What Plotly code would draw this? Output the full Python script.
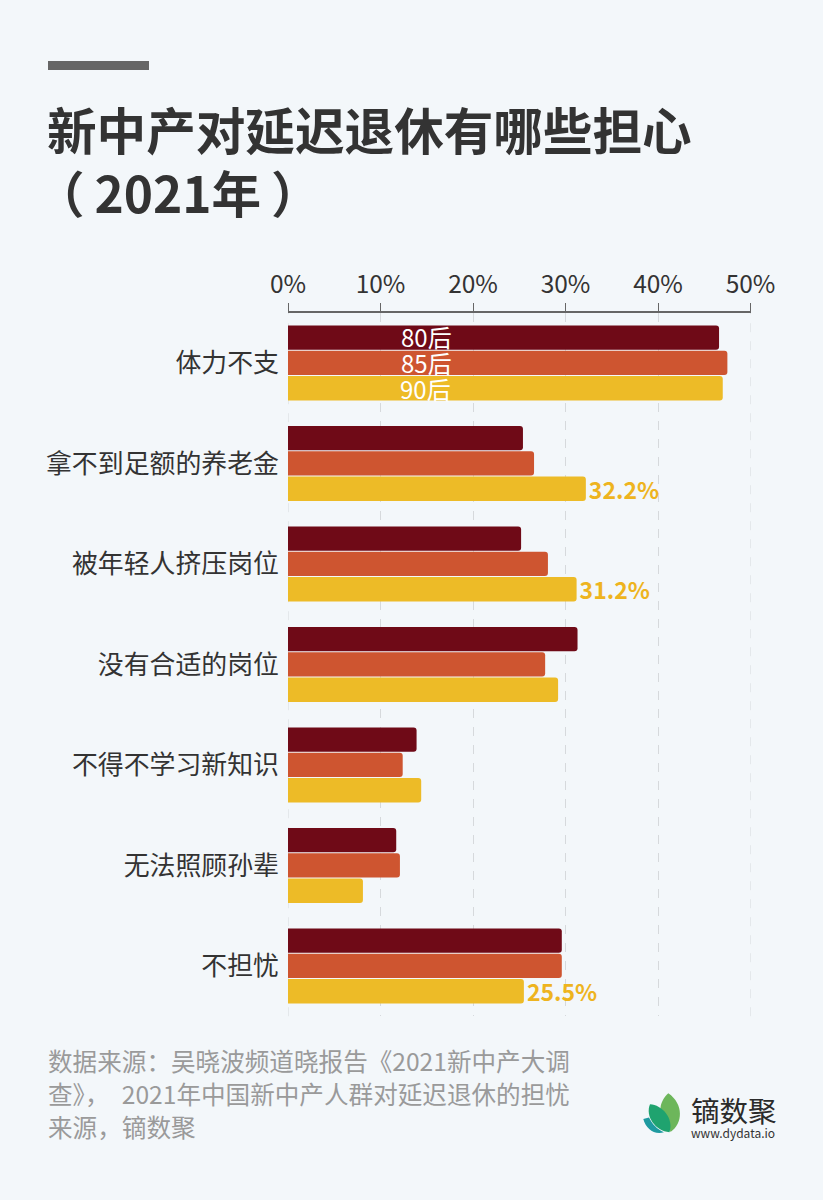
import plotly.graph_objects as go

WIDTH = 823
HEIGHT = 1200
FONT = "Noto Sans CJK SC"

categories = ["体力不支", "拿不到足额的养老金", "被年轻人挤压岗位", "没有合适的岗位", "不得不学习新知识", "无法照顾孙辈", "不担忧"]
series_names = ["80后", "85后", "90后"]
values_80 = [46.6, 25.4, 25.2, 31.3, 13.9, 11.7, 29.6]
values_85 = [47.5, 26.6, 28.1, 27.8, 12.4, 12.1, 29.6]
values_90 = [47.0, 32.2, 31.2, 29.2, 14.4, 8.1, 25.5]
labels_90 = ["", "32.2%", "31.2%", "", "", "", "25.5%"]
x_ticks = [0, 10, 20, 30, 40, 50]
x_tick_labels = ["0%", "10%", "20%", "30%", "40%", "50%"]
title_lines = ["新中产对延迟退休有哪些担心", "（\u20092021年\u2009）"]
source_lines = ["数据来源：吴晓波频道晓报告《2021新中产大调", "查》，\u20022021年中国新中产人群对延迟退休的担忧", "来源，镝数聚"]
colors = ["#6F0A17", "#CE5530", "#EDBB27"]


def px(x):
    return x / WIDTH


def py(y):
    return 1 - y / HEIGHT


def page_text(text, x, y, size, color, weight=400):
    return dict(text=text, x=px(x), y=py(y), xref="paper", yref="paper", xanchor="left", yanchor="middle",
                showarrow=False, font=dict(family=FONT, size=size, color=color, weight=weight))


def logo_path(d, color):
    return dict(type="path", path=d, xref="paper", yref="paper", fillcolor=color, line_width=0)


def to_paper(points):
    # logo outlines are noted in page pixels
    parts = []
    for cmd, coords in points:
        parts.append(cmd + " " + " ".join(f"{px(x):.5f},{py(y):.5f}" for x, y in coords))
    return " ".join(parts) + " Z"


fig = go.Figure()
for name, values, color in zip(series_names, [values_80, values_85, values_90], colors):
    fig.add_trace(go.Bar(
        x=values, y=categories, name=name, orientation="h",
        marker=dict(color=color, cornerradius=3, line_width=0),
        text=labels_90 if name == "90后" else None,
        textposition="outside", cliponaxis=False, constraintext="none",
        textfont=dict(family=FONT, size=23, color="#EEB41F", weight=700),
    ))

annotations = [page_text(line, x, y, 49.6, "#333333", 700) for line, x, y in zip(title_lines, [45, 33], [128, 191])]
annotations += [page_text(line, 46, y, 24.6, "#9A9A9A") for line, y in zip(source_lines, [1060, 1093, 1126])]
annotations.append(page_text("镝数聚", 689, 1109, 28.5, "#2B2B2B", 400))
annotations.append(page_text("www.dydata.io", 689, 1132.5, 12, "#333333"))

# series names sit inside the first group of bars
for name, x, shift in zip(series_names, [15, 14.95, 14.85], [26, 0, -26]):
    annotations.append(dict(text=name, x=x, y=categories[0], xref="x", yref="y", yshift=shift, showarrow=False,
                            font=dict(family=FONT, size=24, color="#FFFFFF")))

shapes = [
    dict(type="rect", x0=px(48), x1=px(149), y0=py(70), y1=py(61), xref="paper", yref="paper",
         fillcolor="#666666", line_width=0),
    logo_path(to_paper([("M", [(668.3, 1093.3)]), ("C", [(684, 1104), (683, 1124), (670.5, 1132)]),
                        ("C", [(668, 1122), (663, 1116), (660.5, 1110)]), ("C", [(660, 1104), (664, 1097), (668.3, 1093.3)])]), "#6DB65B"),
    logo_path(to_paper([("M", [(650, 1104.3)]), ("C", [(662, 1105), (674, 1118), (669.5, 1132.3)]),
                        ("C", [(655, 1131), (645, 1116), (650, 1104.3)])]), "#1FA36F"),
    logo_path(to_paper([("M", [(643.3, 1119)]), ("L", [(649, 1117.5)]), ("C", [(652, 1124), (657, 1129), (664, 1132.3)]),
                        ("C", [(654, 1135), (646, 1129), (643.3, 1119)])]), "#1E9AA0"),
]
# plotly drops the gridlines on the two ends of the range, so draw those here
for tick in [x_ticks[0], x_ticks[-1]]:
    shapes.append(dict(type="line", x0=tick, x1=tick, y0=py(1016.2), y1=py(312.7), xref="x", yref="paper", layer="below",
                       line=dict(color="#D6D9DC", width=1, dash="dash")))

fig.update_layout(
    width=WIDTH, height=HEIGHT, margin=dict(l=0, r=0, t=0, b=0, autoexpand=False),
    paper_bgcolor="#F3F7FA", plot_bgcolor="#F3F7FA",
    barmode="group", bargap=0.245, bargroupgap=0.04,
    showlegend=False, font=dict(family=FONT, color="#333333"),
    annotations=annotations, shapes=shapes,
)
fig.update_xaxes(
    domain=[px(288), px(750.5)], range=[0, 50], side="top", tickmode="array", automargin=False,
    tickvals=x_ticks, ticktext=x_tick_labels, tickfont=dict(family=FONT, size=24.5, color="#333333"),
    ticks="outside", ticklen=8, tickcolor="#666666", tickwidth=1,
    showline=True, linecolor="#666666", linewidth=1.5,
    showgrid=True, gridcolor="#D6D9DC", griddash="dash", gridwidth=1, zeroline=False,
)
fig.update_yaxes(
    domain=[py(1016.2), py(312.7)], autorange="reversed", automargin=False,
    tickfont=dict(family=FONT, size=25.9, color="#333333"),
    ticks="", ticklabelstandoff=8, showline=False, showgrid=False, zeroline=False,
)

fig.write_html("out.html", config={"displayModeBar": False}, post_script="document.body.style.margin='0';")
